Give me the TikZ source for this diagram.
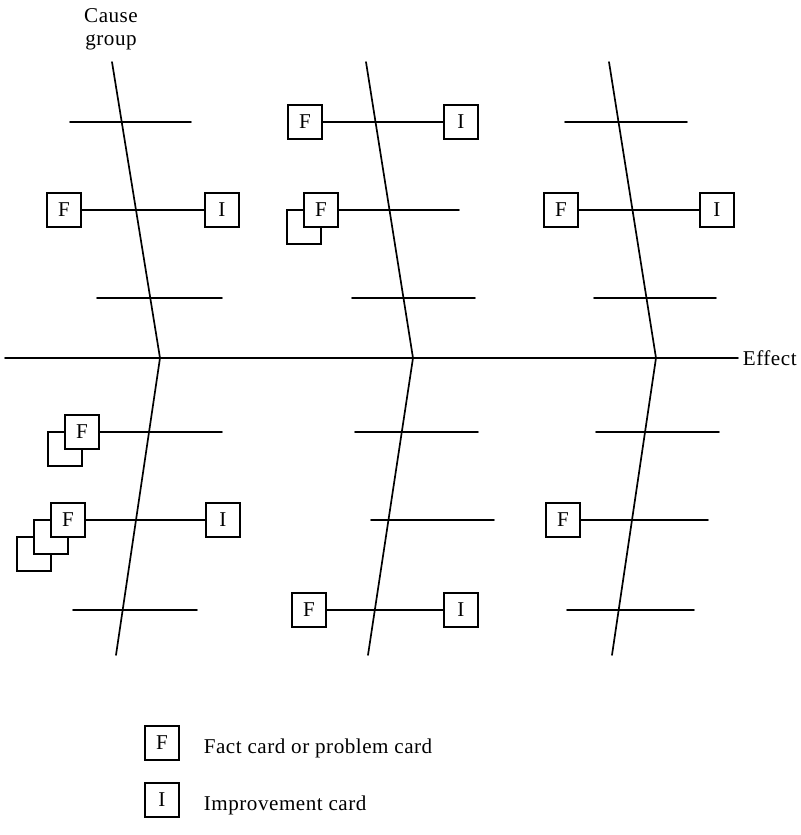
\documentclass[tikz,border=0pt]{standalone}
\usepackage{fontspec}
\setmainfont{Liberation Serif}
\def\effy{358}
\def\cardfont{\fontsize{15}{18}\selectfont}
\def\labfont{\fontsize{15}{18}\selectfont\addfontfeatures{LetterSpace=2.5}}
\tikzset{card/.style={draw,fill=white,line width=0.8pt,minimum size=0.85cm,inner sep=0pt,font=\cardfont}}

\begin{document}
\begin{tikzpicture}[x=0.025cm,y=-0.025cm,line width=1.2pt,line cap=round]
  \useasboundingbox (0,0) rectangle (801,835);
  \node[font=\labfont,anchor=base,inner sep=0pt] (cause) at (111,23) {Cause};
  \node[font=\labfont,anchor=base,inner sep=0pt] (group) at (111,45) {group};
  \coordinate (effL) at (5,\effy);
  \node[font=\labfont,anchor=west,inner sep=0pt] (eff) at (742,\effy) {Effect};
  \draw (effL) -- ([xshift=-0.1cm]eff.west);
  \foreach \n/\xt/\xm/\xb in {1/112/160/116, 2/366/413/368, 3/609/656/612} {
    \coordinate (s\n t) at (\xt,62);
    \coordinate (s\n m) at (\xm,\effy);
    \coordinate (s\n b) at (\xb,655);
    \draw (s\n t) -- (s\n m) -- (s\n b);
  }
  \foreach \k/\xa/\xb/\y in {a/70/191/122, b/97/222/298, c/73/197/610, d/352/475/298, e/355/478/432, f/371/494/520, g/565/687/122, h/594/716/298, i/596/719/432, j/567/694/610} {
    \coordinate (b\k1) at (\xa,\y);
    \coordinate (b\k2) at (\xb,\y);
    \draw (b\k1) -- (b\k2);
  }
  \foreach \n/\x/\y in {1/34/554, 2/51/537, 3/65/449, 4/304/227} {
    \node[card] (back\n) at (\x,\y) {};
  }
  \foreach \n/\xf/\xi/\y in {1/64/222/210, 2/305/461/122, 3/309/461/610, 4/561/717/210, 5/68/223/520} {
    \node[card] (F\n) at (\xf,\y) {F};
    \node[card] (I\n) at (\xi,\y) {I};
    \draw (F\n) -- (I\n);
  }
  \foreach \n/\xf/\xe/\y in {6/82/222/432, 7/321/459/210, 8/563/708/520} {
    \node[card] (F\n) at (\xf,\y) {F};
    \coordinate (e\n) at (\xe,\y);
    \draw (F\n) -- (e\n);
  }
  \node[card] (legF) at (162,743) {F};
  \node[font=\labfont,anchor=base west,inner sep=0pt] (legFt) at (203,753) {Fact card or problem card};
  \node[card] (legI) at (162,800) {I};
  \node[font=\labfont,anchor=base west,inner sep=0pt] (legIt) at (203,810) {Improvement card};
\end{tikzpicture}
\end{document}
